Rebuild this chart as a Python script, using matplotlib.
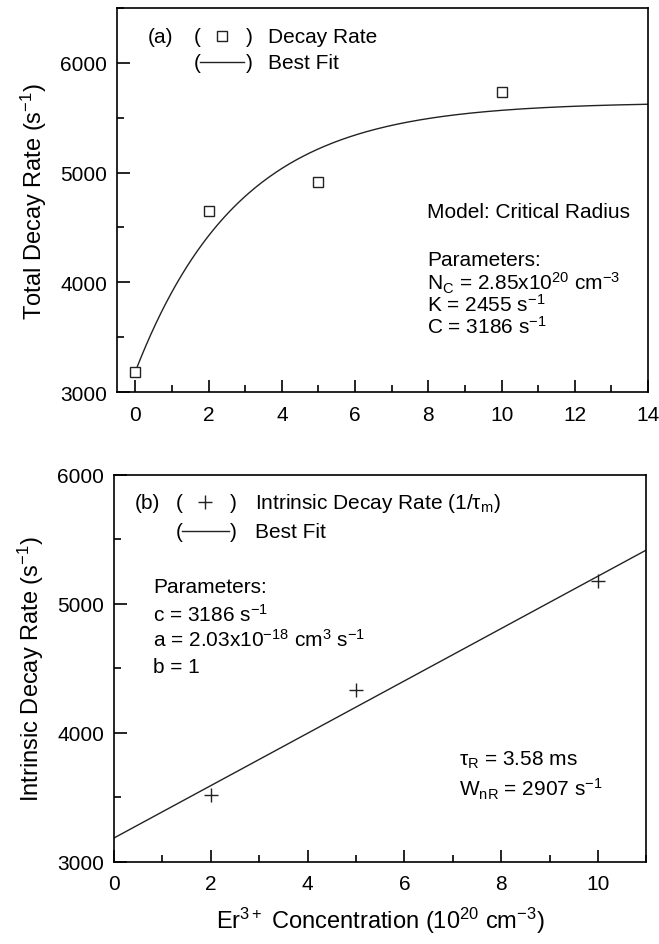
import matplotlib.pyplot as plt
import numpy as np
from matplotlib.ticker import MultipleLocator

plt.rcParams['font.family'] = ['Liberation Sans', 'DejaVu Sans']
plt.rcParams['mathtext.fontset'] = 'custom'
plt.rcParams['mathtext.rm'] = 'Liberation Sans'
plt.rcParams['mathtext.it'] = 'Liberation Sans:italic'
plt.rcParams['mathtext.default'] = 'regular'

# panel (a): total decay rate vs Er concentration
conc_a = [0, 2, 5, 10]
rate_a = [3186, 4650, 4910, 5735]
# critical radius model parameters
Nc = 2.85
K = 2455
C = 3186

# panel (b): intrinsic decay rate
conc_b = [2, 5, 10]
rate_b = [3520, 4330, 5180]
c_b = 3186
a_b = 203  # 2.03e-18 cm^3 s^-1 * 1e20 cm^-3
b_b = 1

fs_tick = 15
fs_text = 15
fs_label = 17

fig = plt.figure(figsize=(6.59, 9.45), dpi=100)
ax1 = fig.add_axes([0.1775, 0.584, 0.806, 0.4065])
ax2 = fig.add_axes([0.173, 0.0868, 0.808, 0.4095])

for ax in (ax1, ax2):
    for s in ax.spines.values():
        s.set_linewidth(1.2)
    ax.tick_params(which='both', direction='in', width=1.2, labelsize=fs_tick, pad=7)
    ax.tick_params(which='major', length=9)
    ax.tick_params(which='minor', length=5)
    ax.tick_params(axis='x', which='major', pad=9)
    ax.xaxis.set_major_locator(MultipleLocator(2))
    ax.xaxis.set_minor_locator(MultipleLocator(1))
    ax.yaxis.set_major_locator(MultipleLocator(1000))
    ax.yaxis.set_minor_locator(MultipleLocator(500))

# ---- panel (a)
xf = np.linspace(0, 14, 300)
ax1.plot(xf, C + K * (1 - np.exp(-xf / Nc)), color='#222222', lw=1.0)
ax1.plot(conc_a, rate_a, ls='none', marker='s', ms=7.5, mfc='white',
         mec='#222222', mew=1.0)
ax1.set_xlim(-0.5, 14)
ax1.set_ylim(3000, 6500)
ax1.set_ylabel('Total Decay Rate (s$^{-1}$)', fontsize=fs_label, labelpad=8)

t1 = ax1.transAxes
ax1.text(0.058, 0.927, '(a)', transform=t1, fontsize=fs_text, va='center')
ax1.text(0.145, 0.927, '(', transform=t1, fontsize=fs_text, va='center')
ax1.text(0.242, 0.927, ')', transform=t1, fontsize=fs_text, va='center')
ax1.plot([0.198], [0.927], transform=t1, marker='s', ms=7, mfc='white',
         mec='#222222', mew=1.0, ls='none')
ax1.text(0.284, 0.927, 'Decay Rate', transform=t1, fontsize=fs_text, va='center')
ax1.text(0.145, 0.859, '(', transform=t1, fontsize=fs_text, va='center')
ax1.text(0.242, 0.859, ')', transform=t1, fontsize=fs_text, va='center')
ax1.plot([0.156, 0.240], [0.859, 0.859], transform=t1, color='#222222', lw=1.0)
ax1.text(0.284, 0.859, 'Best Fit', transform=t1, fontsize=fs_text, va='center')

ax1.text(0.584, 0.469, 'Model: Critical Radius', transform=t1, fontsize=fs_text, va='center')
ax1.text(0.584, 0.346, 'Parameters:', transform=t1, fontsize=fs_text, va='center')
ax1.text(0.584, 0.286, 'N$_C$ = 2.85x10$^{20}$ cm$^{-3}$', transform=t1,
         fontsize=fs_text, va='center')
ax1.text(0.584, 0.229, 'K = 2455 s$^{-1}$', transform=t1, fontsize=fs_text, va='center')
ax1.text(0.584, 0.172, 'C = 3186 s$^{-1}$', transform=t1, fontsize=fs_text, va='center')

# ---- panel (b)
xl = np.array([0, 11])
ax2.plot(xl, c_b + a_b * xl ** b_b, color='#222222', lw=1.0)
ax2.plot(conc_b, rate_b, ls='none', marker='+', ms=10, mec='#222222', mew=1.0)
ax2.set_xlim(0, 11)
ax2.set_ylim(3000, 6000)
ax2.set_ylabel('Intrinsic Decay Rate (s$^{-1}$)', fontsize=fs_label, labelpad=8)
ax2.set_xlabel('Er$^{3+}$ Concentration (10$^{20}$ cm$^{-3}$)', fontsize=fs_label,
               labelpad=8)

t2 = ax2.transAxes
ax2.text(0.039, 0.930, '(b)', transform=t2, fontsize=fs_text, va='center')
ax2.text(0.116, 0.930, '(', transform=t2, fontsize=fs_text, va='center')
ax2.text(0.218, 0.930, ')', transform=t2, fontsize=fs_text, va='center')
ax2.plot([0.171], [0.930], transform=t2, marker='+', ms=10, mec='#222222',
         mew=1.0, ls='none')
ax2.text(0.265, 0.930, r'Intrinsic Decay Rate (1/$\tau_m$)', transform=t2,
         fontsize=fs_text, va='center')
ax2.text(0.116, 0.855, '(', transform=t2, fontsize=fs_text, va='center')
ax2.text(0.218, 0.855, ')', transform=t2, fontsize=fs_text, va='center')
ax2.plot([0.127, 0.216], [0.855, 0.855], transform=t2, color='#222222', lw=1.0)
ax2.text(0.265, 0.855, 'Best Fit', transform=t2, fontsize=fs_text, va='center')

ax2.text(0.073, 0.713, 'Parameters:', transform=t2, fontsize=fs_text, va='center')
ax2.text(0.073, 0.641, 'c = 3186 s$^{-1}$', transform=t2, fontsize=fs_text, va='center')
ax2.text(0.073, 0.576, 'a = 2.03x10$^{-18}$ cm$^{3}$ s$^{-1}$', transform=t2,
         fontsize=fs_text, va='center')
ax2.text(0.073, 0.505, 'b = 1', transform=t2, fontsize=fs_text, va='center')

ax2.text(0.647, 0.266, r'$\tau_R$ = 3.58 ms', transform=t2, fontsize=fs_text, va='center')
ax2.text(0.647, 0.189, 'W$_{nR}$ = 2907 s$^{-1}$', transform=t2, fontsize=fs_text,
         va='center')

fig.savefig('out.png', dpi=100)
